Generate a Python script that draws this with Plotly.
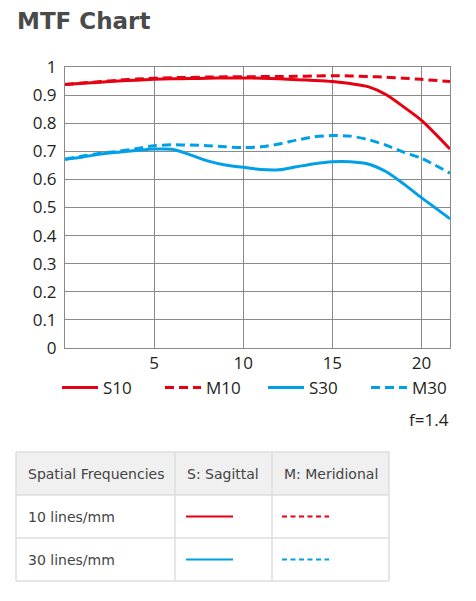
import plotly.graph_objects as go

# spatial position (mm from image centre)
x_pos = [0, 1, 2, 3, 4, 5, 6, 7, 8, 9, 10, 11, 12, 13, 14, 15, 16, 17, 18, 19, 20, 21.6]

s10 = [0.938, 0.942, 0.946, 0.950, 0.953, 0.956, 0.958, 0.959, 0.960, 0.961, 0.961,
       0.960, 0.958, 0.955, 0.952, 0.948, 0.941, 0.930, 0.902, 0.858, 0.810, 0.708]
m10 = [0.938, 0.943, 0.948, 0.953, 0.957, 0.960, 0.962, 0.963, 0.964, 0.965, 0.965,
       0.966, 0.966, 0.967, 0.968, 0.969, 0.968, 0.966, 0.964, 0.960, 0.956, 0.948]
s30 = [0.672, 0.680, 0.690, 0.697, 0.703, 0.708, 0.707, 0.688, 0.666, 0.651, 0.643,
       0.635, 0.634, 0.645, 0.656, 0.663, 0.663, 0.655, 0.628, 0.584, 0.535, 0.460]
m30 = [0.672, 0.683, 0.693, 0.700, 0.709, 0.720, 0.723, 0.722, 0.720, 0.716, 0.713,
       0.716, 0.726, 0.740, 0.752, 0.756, 0.754, 0.742, 0.722, 0.697, 0.675, 0.622]

y_ticks = [0, 0.1, 0.2, 0.3, 0.4, 0.5, 0.6, 0.7, 0.8, 0.9, 1]
y_tick_text = ["0", "0.1", "0.2", "0.3", "0.4", "0.5", "0.6", "0.7", "0.8", "0.9", "1"]
x_ticks = [5, 10, 15, 20]

table_header = ["Spatial Frequencies", "S: Sagittal", "M: Meridional"]
table_rows = ["10 lines/mm", "30 lines/mm"]
row_colors = ["#e60012", "#00a0e9"]

RED = "#e60012"
BLUE = "#00a0e9"
OFF = 8          # page body margin the figure sits inside
W, H = 460, 585  # figure size, fits the 476x601 window with the body margin
M = 2            # figure margin in px


# helpers: window pixel -> paper fraction
def px(x):
    return (x - OFF - M) / (W - 2 * M)


def py(y):
    return (H - M - (y - OFF)) / (H - 2 * M)


fig = go.Figure()

series = [
    ("S10", s10, RED, "solid"),
    ("M10", m10, RED, "9px,5px"),
    ("S30", s30, BLUE, "solid"),
    ("M30", m30, BLUE, "9px,5px"),
]
for name, vals, color, dash in series:
    fig.add_trace(go.Scatter(
        x=x_pos, y=vals, mode="lines", name=name,
        line=dict(color=color, width=3, dash=dash, shape="spline", smoothing=0.8),
    ))

# key table underneath (drawn with shapes + text)
col_edges = [16, 175, 272, 389]
row_edges = [452, 495, 538, 581]
border = "#dedede"
tfont = dict(family="DejaVu Sans", size=14, color="#444444")

fig.add_shape(type="rect", xref="paper", yref="paper",
              x0=px(col_edges[0]), x1=px(col_edges[-1]),
              y0=py(row_edges[0]), y1=py(row_edges[1]),
              fillcolor="#f0f0f0", line=dict(width=0), layer="below")
for xe in col_edges:
    fig.add_shape(type="line", xref="paper", yref="paper",
                  x0=px(xe), x1=px(xe), y0=py(row_edges[0]), y1=py(row_edges[-1]),
                  line=dict(color=border, width=1.5))
for ye in row_edges:
    fig.add_shape(type="line", xref="paper", yref="paper",
                  x0=px(col_edges[0]), x1=px(col_edges[-1]), y0=py(ye), y1=py(ye),
                  line=dict(color=border, width=1.5))

for i, label in enumerate(table_header):
    fig.add_annotation(text=label, xref="paper", yref="paper",
                       x=px(col_edges[i] + 10), y=py((row_edges[0] + row_edges[1]) / 2),
                       xanchor="left", yanchor="middle", showarrow=False, font=tfont)

for r, label in enumerate(table_rows):
    yc = (row_edges[r + 1] + row_edges[r + 2]) / 2
    fig.add_annotation(text=label, xref="paper", yref="paper",
                       x=px(col_edges[0] + 10), y=py(yc),
                       xanchor="left", yanchor="middle", showarrow=False, font=tfont)
    fig.add_shape(type="line", xref="paper", yref="paper",
                  x0=px(186), x1=px(233), y0=py(yc), y1=py(yc),
                  line=dict(color=row_colors[r], width=2))
    fig.add_shape(type="line", xref="paper", yref="paper",
                  x0=px(282), x1=px(329), y0=py(yc), y1=py(yc),
                  line=dict(color=row_colors[r], width=2, dash="5px,3.5px"))

fig.add_annotation(text="<b>MTF Chart</b>", xref="paper", yref="paper",
                   x=px(15), y=py(21), xanchor="left", yanchor="middle",
                   showarrow=False,
                   font=dict(family="DejaVu Sans", size=23, color="#4a4a4a"))

axis_font = dict(family="Open Sans", size=17, color="#231f20")

fig.add_annotation(text="f=1.4", xref="paper", yref="paper",
                   x=px(451), y=py(420), xanchor="right", yanchor="middle",
                   showarrow=False, font=axis_font)

fig.update_layout(
    width=W, height=H,
    margin=dict(l=M, r=M, t=M, b=M, autoexpand=False),
    paper_bgcolor="white", plot_bgcolor="white",
    xaxis=dict(domain=[px(65), px(450)], range=[0, 21.6], tickvals=x_ticks,
               showgrid=True, gridcolor="#8a8a8a", gridwidth=1,
               showline=True, linecolor="#8a8a8a", mirror=True,
               zeroline=False, tickfont=axis_font, ticklen=0, ticklabelstandoff=0),
    yaxis=dict(domain=[py(348), py(67)], range=[0, 1], tickvals=y_ticks,
               ticktext=y_tick_text,
               showgrid=True, gridcolor="#8a8a8a", gridwidth=1,
               showline=True, linecolor="#8a8a8a", mirror=True,
               zeroline=False, tickfont=axis_font, ticklabelstandoff=4),
    showlegend=True,
    legend=dict(orientation="h", x=px(57), y=py(388), xanchor="left", yanchor="middle",
                itemwidth=36, entrywidth=52, entrywidthmode="pixels",
                font=axis_font, bgcolor="rgba(0,0,0,0)"),
)

fig.write_html("out.html")
